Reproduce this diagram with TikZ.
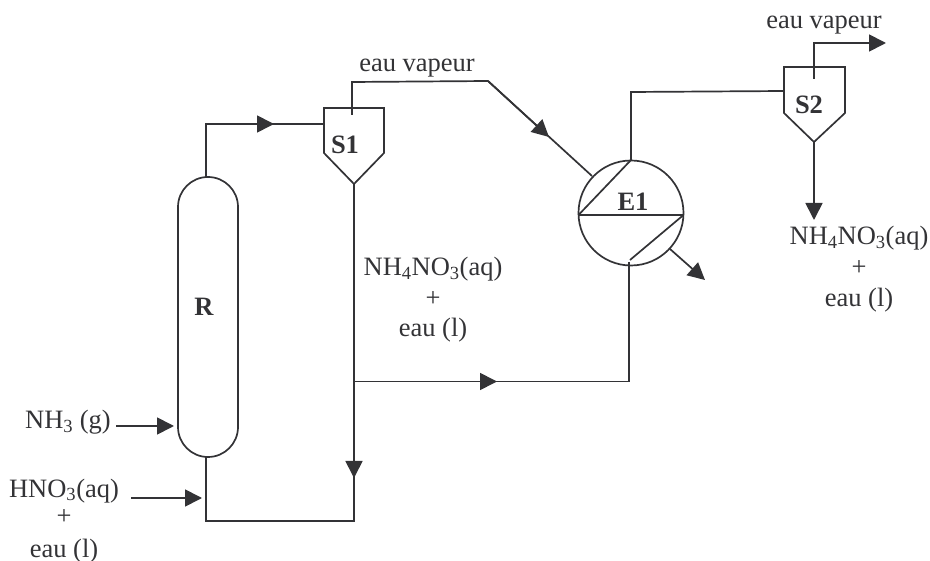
\documentclass[tikz,border=0pt]{standalone}
\usepackage{fontspec}
\setmainfont{Liberation Serif}
\usetikzlibrary{arrows.meta}
\definecolor{ink}{HTML}{333336}
\tikzset{
  x=1pt,y=-1pt,
  line/.style={draw=ink,line width=1.7pt},
  flow/.style={line,-{Triangle[length=17pt,width=17pt]}},
  lab/.style={text=ink,inner sep=0pt,font=\fontsize{26.5}{28}\selectfont},
  blab/.style={lab,font=\fontsize{26.5}{28}\selectfont\bfseries},
}
\begin{document}
\begin{tikzpicture}
\useasboundingbox (0,0) rectangle (930,561);
% equipment
\draw[line] (178,207) arc[start angle=180,end angle=360,radius=30] -- (238,427) arc[start angle=0,end angle=180,radius=30] -- cycle;
\coordinate (Rtop) at (206,178);
\coordinate (Rbot) at (206,457);
\draw[line,line join=miter] (324,108) -- (384,108) -- (384,153) -- (354,184) -- (324,153) -- cycle;
\draw[line,line join=miter] (784,67) -- (845,67) -- (845,113) -- (814,142) -- (784,113) -- cycle;
\node[line,circle,minimum size=105pt,inner sep=0pt] (E1) at (631,213) {};
% named points
\coordinate (S1in) at (324,124); \coordinate (S1tip) at (354,184); \coordinate (S1st) at (352,115);
\coordinate (S2in) at (784,91); \coordinate (S2tip) at (814,142); \coordinate (S2st) at (814,79);
\coordinate (EL) at (578.5,215); \coordinate (ER) at (683.5,215);
\coordinate (ET) at (631,160); \coordinate (EB) at (630,260);
\coordinate (Ein) at (592,176); \coordinate (Eout) at (670,249);
\coordinate (c1) at (206,124); \coordinate (c2) at (352,82); \coordinate (c3) at (488,81);
\coordinate (c4) at (631,92); \coordinate (c5) at (814,43); \coordinate (c6) at (886,43);
\coordinate (c7) at (705,280); \coordinate (c8) at (814,220);
\coordinate (J) at (354,381.5); \coordinate (c9) at (629,381.5); \coordinate (c10) at (629,262);
\coordinate (c11) at (206,521); \coordinate (c12) at (354,521);
\coordinate (m1) at (274,124); \coordinate (m2) at (549,137); \coordinate (m3) at (497,381.5); \coordinate (m4) at (354,478);
\coordinate (a1) at (116,426); \coordinate (a2) at (174,426);
\coordinate (b1) at (131,498); \coordinate (b2) at (202,498);
% exchanger internals
\draw[line] (EL) -- (ER);
\draw[line] (EL) -- (ET);
\draw[line] (ER) -- (EB);
% connectors
\draw[line] (Rtop) -- (c1) -- (S1in);
\draw[flow] (c1) -- (m1);
\draw[line] (S1st) -- (c2) -- (c3) -- (Ein);
\draw[flow] (c3) -- (m2);
\draw[line] (S1tip) -- (c12) -- (c11) -- (Rbot);
\draw[flow] (S1tip) -- (m4);
\draw[line] (J) -- (c9) -- (c10);
\draw[flow] (J) -- (m3);
\draw[line] (ET) -- (c4) -- (S2in);
\draw[flow] (S2st) -- (c5) -- (c6);
\draw[flow] (S2tip) -- (c8);
\draw[flow] (Eout) -- (c7);
\draw[flow] (a1) -- (a2);
\draw[flow] (b1) -- (b2);
% labels
\node[blab] (lR) at (204,307) {R};
\node[blab] (lS1) at (345,145) {S1};
\node[blab] (lS2) at (809,105) {S2};
\node[blab] (lE1) at (633,202) {E1};
\node[lab,anchor=base] (v1) at (417,72) {eau vapeur};
\node[lab,anchor=base] (v2) at (824,29) {eau vapeur};
\node[lab,anchor=base] (n1) at (433,276) {NH\textsubscript{4}NO\textsubscript{3}(aq)};
\node[lab,anchor=base] (p1) at (433,307) {+};
\node[lab,anchor=base] (e1) at (433,337) {eau (l)};
\node[lab,anchor=base] (n2) at (859,245) {NH\textsubscript{4}NO\textsubscript{3}(aq)};
\node[lab,anchor=base] (p2) at (859,276) {+};
\node[lab,anchor=base] (e2) at (859,307) {eau (l)};
\node[lab,anchor=base] (n3) at (68,429) {NH\textsubscript{3} (g)};
\node[lab,anchor=base] (n4) at (64,497) {HNO\textsubscript{3}(aq)};
\node[lab,anchor=base] (p3) at (64,525) {+};
\node[lab,anchor=base] (e3) at (64,557) {eau (l)};
\end{tikzpicture}
\end{document}
